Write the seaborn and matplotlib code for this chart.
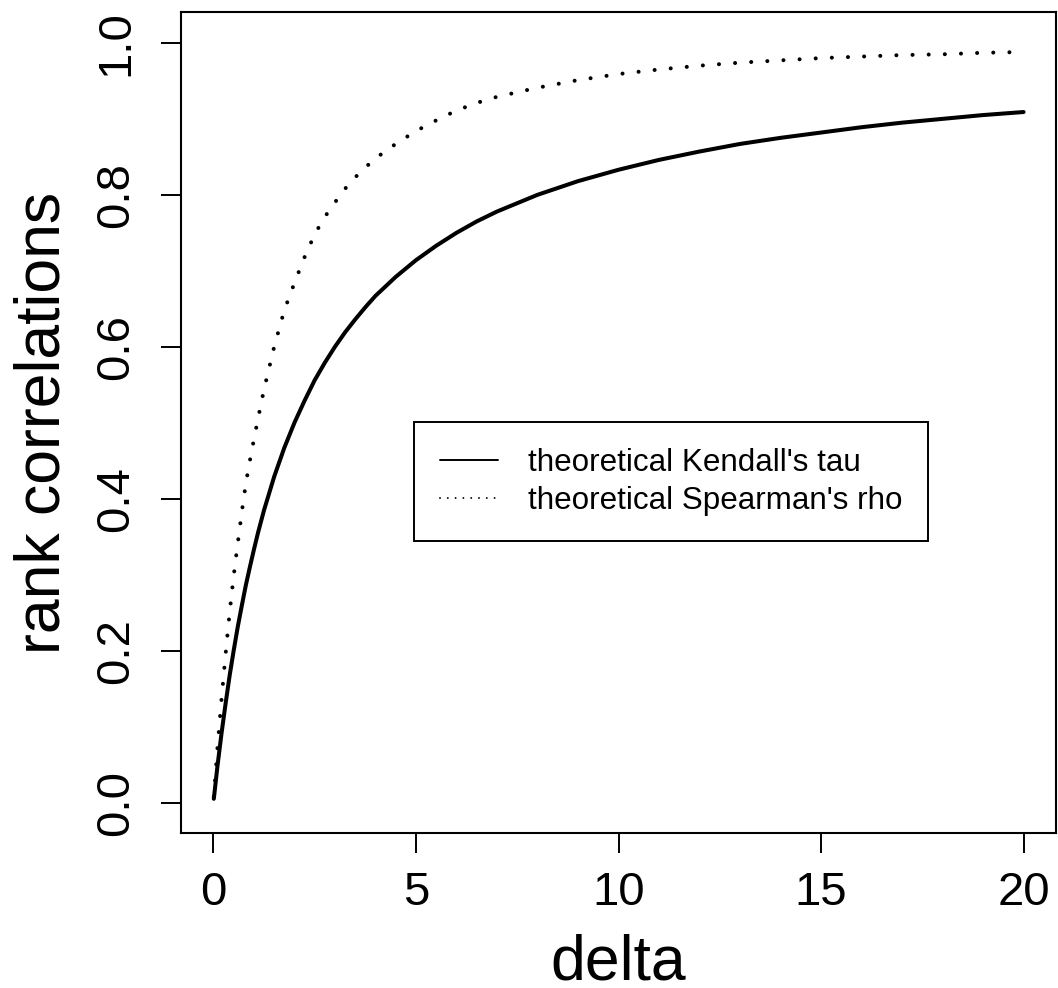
import matplotlib
matplotlib.use("Agg")
import matplotlib.pyplot as plt
import seaborn as sns
import pandas as pd

# ---- data ----
delta = [0.01, 0.05, 0.1, 0.2, 0.3, 0.4, 0.5, 0.6, 0.7, 0.8,
         0.9, 1.0, 1.1, 1.25, 1.5, 1.75, 2.0, 2.25, 2.5, 2.75,
         3.0, 3.25, 3.5, 3.75, 4.0, 4.5, 5.0, 5.5, 6.0, 6.5,
         7.0, 7.5, 8.0, 9.0, 10.0, 11.0, 12.0, 13.0, 14.0, 15.0,
         16.0, 17.0, 18.0, 19.0, 20.0]
kendall_tau = [0.005, 0.024, 0.048, 0.091, 0.130, 0.167, 0.200, 0.231, 0.259, 0.286,
               0.310, 0.333, 0.355, 0.385, 0.429, 0.467, 0.500, 0.529, 0.556, 0.579,
               0.600, 0.619, 0.636, 0.652, 0.667, 0.692, 0.714, 0.733, 0.750, 0.765,
               0.778, 0.789, 0.800, 0.818, 0.833, 0.846, 0.857, 0.867, 0.875, 0.882,
               0.889, 0.895, 0.900, 0.905, 0.909]
spearman_rho = [0.008, 0.036, 0.072, 0.136, 0.195, 0.250, 0.298, 0.341, 0.382, 0.420,
                0.450, 0.478, 0.505, 0.544, 0.600, 0.648, 0.684, 0.718, 0.748, 0.771,
                0.790, 0.808, 0.823, 0.836, 0.848, 0.867, 0.884, 0.898, 0.911, 0.921,
                0.929, 0.935, 0.941, 0.951, 0.959, 0.965, 0.970, 0.974, 0.977, 0.980,
                0.982, 0.984, 0.985, 0.987, 0.988]
labels = ["theoretical Kendall's tau", "theoretical Spearman's rho"]
x_ticks = [0, 5, 10, 15, 20]
y_ticks = [0.0, 0.2, 0.4, 0.6, 0.8, 1.0]

df = pd.DataFrame({"delta": delta, "tau": kendall_tau, "rho": spearman_rho})

sns.set_style("ticks")
plt.rcParams["font.family"] = ["Liberation Sans", "DejaVu Sans"]
plt.rcParams["text.color"] = "black"
plt.rcParams["axes.labelcolor"] = "black"

W, H = 1058, 988
fig = plt.figure(figsize=(W / 100, H / 100), dpi=100)
L, R, T, B = 181, 1056, 12.5, 833
ax = fig.add_axes([L / W, 1 - B / H, (R - L) / W, (B - T) / H])

sns.lineplot(data=df, x="delta", y="tau", color="black", linewidth=2.9,
             label=labels[0], ax=ax, solid_capstyle="round")
sns.lineplot(data=df, x="delta", y="rho", color="black", linewidth=2.9,
             label=labels[1], ax=ax)
ln = ax.lines[1]
ln.set_linestyle((0, (0.01, 4.0)))
ln.set_dash_capstyle("round")

ax.set_xlim(-0.8, 20.8)
ax.set_ylim(-0.04, 1.04)
ax.set_xticks(x_ticks)
ax.set_xticklabels([str(v) for v in x_ticks])
ax.set_yticks(y_ticks)
ax.set_yticklabels([f"{v:.1f}" for v in y_ticks])

for s in ax.spines.values():
    s.set_visible(True)
    s.set_color("black")
    s.set_linewidth(1.5)

ax.tick_params(axis="both", direction="out", length=14.4, width=1.4,
               colors="black", labelsize=34)
ax.tick_params(axis="x", pad=13)
ax.tick_params(axis="y", pad=16.5, labelrotation=90)
for t in ax.get_yticklabels():
    t.set_va("center")

ax.set_xlabel("delta", fontsize=45, va="baseline", color="black")
ax.xaxis.set_label_coords(0.5, (B - 979) / (B - T))
ax.set_ylabel("rank correlations", fontsize=45, va="baseline",
              rotation_mode="anchor", color="black")
ax.yaxis.set_label_coords((60 - L) / (R - L), 0.5)

leg = ax.legend(loc="upper left", bbox_to_anchor=(414 / W, 1 - 422 / H),
                bbox_transform=fig.transFigure, borderaxespad=0,
                frameon=True, fancybox=False, edgecolor="black",
                framealpha=1, fontsize=22.6, handlelength=1.85,
                handletextpad=0.95, borderpad=0.82, labelspacing=0.25)
leg.get_frame().set_linewidth(1.4)
for t in leg.get_texts():
    t.set_color("black")
for h in leg.get_lines():
    h.set_linewidth(1.4)

fig.savefig("out.png", dpi=100, facecolor="white")
